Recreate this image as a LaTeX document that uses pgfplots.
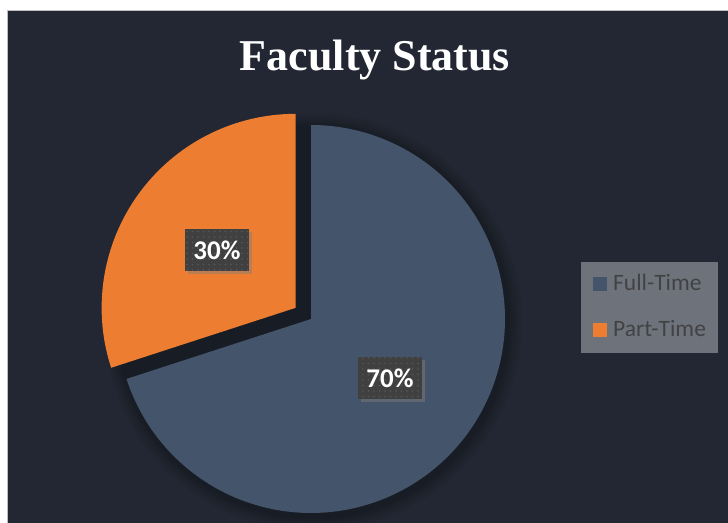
\documentclass[border=0pt]{standalone}
\usepackage{fontspec}
\usepackage{pgfplots}
\usepackage{pgfplotstable}
\pgfplotsset{compat=1.18}
\usetikzlibrary{shadows,patterns.meta}
\newfontfamily\titlefont{Liberation Serif}
\newfontfamily\calibri{Carlito}
\definecolor{bg}{RGB}{34,39,51}
\definecolor{fullc}{RGB}{68,84,106}
\definecolor{partc}{RGB}{237,125,49}
\definecolor{legc}{RGB}{110,115,123}
\definecolor{legtext}{RGB}{66,66,68}
\definecolor{lblc}{RGB}{64,64,64}
\definecolor{dotc}{RGB}{88,88,88}
\definecolor{framec}{RGB}{190,190,190}
\pgfplotstableread[col sep=comma]{
status,pct
Full-Time,70
Part-Time,30
}\facultydata
\pgfplotstablegetelem{0}{pct}\of\facultydata \let\pctFull\pgfplotsretval
\pgfplotstablegetelem{1}{pct}\of\facultydata \let\pctPart\pgfplotsretval
\begin{document}
\begin{tikzpicture}
\pgfmathsetmacro\aEnd{90-3.6*\pctFull}
\pgfmathsetmacro\aPart{90+3.6*\pctPart}
\pgfmathsetmacro\aMidP{90+1.8*\pctPart}
\pgfmathsetmacro\pcx{311+19*cos(\aMidP)}
\pgfmathsetmacro\pcy{204+19*sin(\aMidP)}
\fill[white] (0,0) rectangle (728bp,523bp);
\fill[bg] (7bp,0) rectangle (728bp,513bp);
\draw[framec, line width=1bp] (7.5bp,0) -- (7.5bp,512.5bp) -- (728bp,512.5bp);
% soft shadow behind the pie
\foreach \k in {1,...,5} {
  \fill[black, opacity=0.05] (313bp,201bp) circle[radius={194bp+\k*3bp}];
}
\begin{axis}[at={(0,0)}, anchor=south west, scale only axis,
  width=728bp, height=523bp, xmin=0, xmax=728, ymin=0, ymax=523,
  hide axis, clip=false,
  legend image code/.code={\fill[#1] (0bp,-7bp) rectangle (14bp,7bp);},
  legend cell align=left,
  legend style={at={(axis cs:581,170)}, anchor=south west, fill=legc, draw=none,
    inner xsep=12bp, inner ysep=12bp, text=legtext,
    font=\calibri\fontsize{23.5bp}{28bp}\selectfont,
    row sep=25bp,
    nodes={inner sep=0pt, text height=17bp, text depth=4bp},
    /tikz/every odd column/.append style={column sep=6bp}},
]
\addplot[fill=fullc, draw=none, domain=\aEnd:90, samples=200, variable=\t]
  ({311+194*cos(t)},{204+194*sin(t)}) -- (axis cs:311,204) -- cycle;
\addlegendentry{Full-Time}
\addplot[fill=partc, draw=none, domain=90:\aPart, samples=120, variable=\t]
  ({\pcx+194*cos(t)},{\pcy+194*sin(t)}) -- (axis cs:\pcx,\pcy) -- cycle;
\addlegendentry{Part-Time}
\addplot[forget plot, draw=none, mark=none, nodes near coords,
  point meta=explicit symbolic, nodes near coords align={center},
  every node near coord/.style={anchor=center, inner sep=0pt,
    minimum width=64bp, minimum height=42bp, fill=lblc,
    postaction={pattern={Dots[distance=5.5bp, radius=0.8bp]}, pattern color=dotc},
    drop shadow={shadow xshift=3bp, shadow yshift=-3bp, opacity=0.45},
    text=white, font=\calibri\bfseries\fontsize{27bp}{32bp}\selectfont}]
  coordinates {(390,145) [70\%] (217,273) [30\%]};
\node[anchor=base, text=white, font=\titlefont\bfseries\fontsize{44bp}{50bp}\selectfont]
  at (axis cs:375,452) {Faculty Status};
\end{axis}
\pgfresetboundingbox
\path[use as bounding box] (0,0) rectangle (728bp,523bp);
\end{tikzpicture}
\end{document}
